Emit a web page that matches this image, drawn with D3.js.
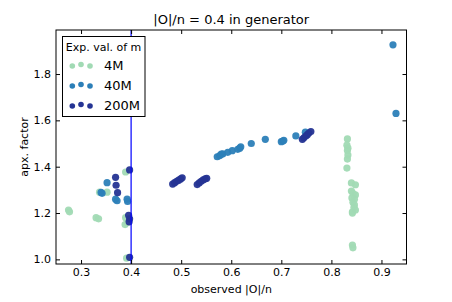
<!DOCTYPE html>
<html><head><meta charset="utf-8">
<script src="https://cdn.jsdelivr.net/npm/d3@7"></script>
<style>body{margin:0;background:#fff}svg{display:block}text{font-family:"DejaVu Sans",sans-serif}</style>
</head><body><svg id="c" width="452" height="302"></svg>
<script>
const seriesNames = ["4M","40M","200M"];
const seriesColors = ["#a1dab4","#2c7fb8","#253494"];
const xTicks = [0.3,0.4,0.5,0.6,0.7,0.8,0.9];
const yTicks = [1.0,1.2,1.4,1.6,1.8];
const generatorRatio = 0.4;
const m4M_x = [0.275,0.277,0.330,0.335,0.337,0.352,0.389,0.389,0.388,0.391,0.393,
  0.832,0.831,0.833,0.832,0.833,0.832,0.831,
  0.840,0.848,0.840,0.848,0.841,0.843,0.846,0.845,0.848,0.842,0.842,0.846,0.843,0.842,0.843];
const m4M_y = [1.213,1.205,1.180,1.175,1.290,1.290,1.377,1.180,1.150,1.005,1.160,
  1.520,1.493,1.480,1.470,1.450,1.433,1.394,
  1.330,1.322,1.295,1.278,1.265,1.247,1.235,1.225,1.213,1.205,1.200,1.260,1.285,1.062,1.050];
const m40M_x = [0.340,0.342,0.352,0.369,0.372,0.392,0.393,
  0.572,0.577,0.580,0.583,0.593,0.602,0.613,0.617,0.619,0.640,0.668,0.700,0.703,0.705,0.729,0.748,0.923,0.929];
const m40M_y = [1.289,1.285,1.331,1.260,1.253,1.260,1.250,
  1.443,1.448,1.454,1.455,1.462,1.469,1.475,1.480,1.486,1.500,1.518,1.508,1.511,1.514,1.533,1.549,1.926,1.630];
const m200M_x = [0.397,0.369,0.370,0.373,0.395,0.397,0.396,0.397,
  0.483,0.487,0.491,0.495,0.499,0.502,
  0.532,0.536,0.540,0.544,0.548,0.551,
  0.742,0.745,0.749,0.752,0.755,0.759];
const m200M_y = [1.386,1.354,1.320,1.288,1.190,1.175,1.162,1.009,
  1.325,1.331,1.337,1.342,1.347,1.352,
  1.323,1.330,1.337,1.343,1.348,1.350,
  1.518,1.525,1.532,1.538,1.545,1.552];
const seriesX = [m4M_x, m40M_x, m200M_x];
const seriesY = [m4M_y, m40M_y, m200M_y];

const svg = d3.select("#c");
const L=56, R=406.5, T=30, B=264;
const x = d3.scaleLinear().domain([0.25,0.95]).range([L,R]);
const y = d3.scaleLinear().domain([0.98,1.99]).range([B,T]);

// points
seriesNames.forEach((n,i)=>{
  const pts = seriesX[i].map((v,j)=>[v,seriesY[i][j]]);
  svg.append("g").selectAll("circle").data(pts).enter().append("circle")
    .attr("cx",d=>x(d[0])).attr("cy",d=>y(d[1])).attr("r",3.6)
    .attr("fill",seriesColors[i]).attr("fill-opacity",0.95);
});

// generator line
svg.append("line").attr("x1",x(generatorRatio)).attr("x2",x(generatorRatio))
  .attr("y1",T).attr("y2",B).attr("stroke","#0000ff").attr("stroke-width",1.2);

// axes (ticks inside)
const fmt = d3.format(".1f");
svg.append("g").attr("transform",`translate(0,${B})`)
  .call(d3.axisBottom(x).tickValues(xTicks).tickFormat(fmt).tickSizeInner(-4).tickSizeOuter(0).tickPadding(4));
svg.append("g").attr("transform",`translate(0,${T})`)
  .call(d3.axisTop(x).tickValues(xTicks).tickFormat("").tickSizeInner(-4).tickSizeOuter(0));
svg.append("g").attr("transform",`translate(${L},0)`)
  .call(d3.axisLeft(y).tickValues(yTicks).tickFormat(fmt).tickSizeInner(-4).tickSizeOuter(0).tickPadding(5));
svg.append("g").attr("transform",`translate(${R},0)`)
  .call(d3.axisRight(y).tickValues(yTicks).tickFormat("").tickSizeInner(-4).tickSizeOuter(0));
svg.selectAll(".domain").remove();
svg.selectAll(".tick line").attr("stroke","#000");
svg.selectAll(".tick text").attr("font-size",11).attr("fill","#000").attr("font-family","DejaVu Sans");
svg.append("rect").attr("x",L).attr("y",T).attr("width",R-L).attr("height",B-T)
  .attr("fill","none").attr("stroke","#000").attr("stroke-width",1);

// titles
svg.append("text").attr("x",(L+R)/2).attr("y",24).attr("text-anchor","middle").attr("font-size",13).text("|O|/n = 0.4 in generator");
svg.append("text").attr("x",(L+R)/2).attr("y",293).attr("text-anchor","middle").attr("font-size",11).text("observed |O|/n");
svg.append("text").attr("transform",`translate(28,${(T+B)/2}) rotate(-90)`).attr("text-anchor","middle").attr("font-size",11).text("apx. factor");

// legend
const lg = svg.append("g");
lg.append("rect").attr("x",62.5).attr("y",36.5).attr("width",82.5).attr("height",80).attr("fill","#fff").attr("stroke","#000");
lg.append("text").attr("x",103.5).attr("y",51).attr("text-anchor","middle").attr("font-size",11).text("Exp. val. of m");
const offs = [[72.3,1],[81,-0.5],[90,1]];
seriesNames.forEach((n,i)=>{
  const cy = 65 + i*20;
  offs.forEach(o=>lg.append("circle").attr("cx",o[0]).attr("cy",cy+o[1]).attr("r",2.8).attr("fill",seriesColors[i]));
  lg.append("text").attr("x",104).attr("y",cy+5).attr("font-size",13).text(n);
});
</script></body></html>
